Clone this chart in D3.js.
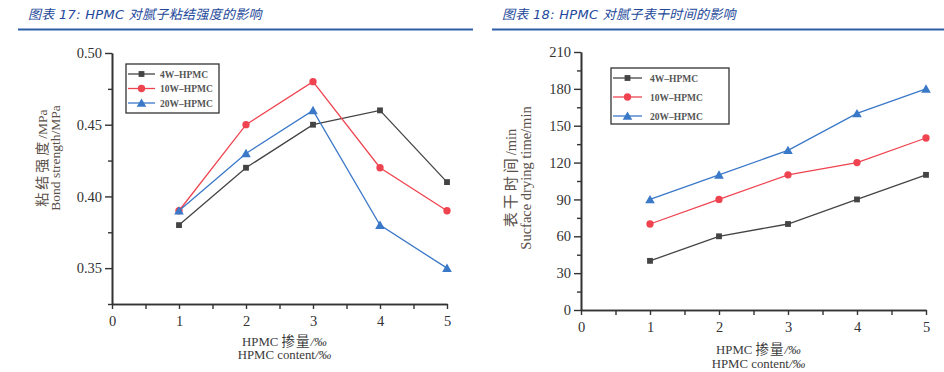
<!DOCTYPE html>
<html><head><meta charset="utf-8">
<script src="https://cdn.jsdelivr.net/npm/d3@7"></script>
<style>body{margin:0;background:#fff}svg{display:block}</style>
</head><body><svg id="c" width="944" height="372"></svg>
<script>
const xValues = [1, 2, 3, 4, 5];
const seriesNames = ["4W–HPMC", "10W–HPMC", "20W–HPMC"];
const bond4W = [0.38, 0.42, 0.45, 0.46, 0.41];
const bond10W = [0.39, 0.45, 0.48, 0.42, 0.39];
const bond20W = [0.39, 0.43, 0.46, 0.38, 0.35];
const dry4W = [40, 60, 70, 90, 110];
const dry10W = [70, 90, 110, 120, 140];
const dry20W = [90, 110, 130, 160, 180];
const xTicks = [0, 1, 2, 3, 4, 5];
const xMinorTicks = [0.5, 1.5, 2.5, 3.5, 4.5];
const bondTicks = [0.35, 0.40, 0.45, 0.50];
const bondMinorTicks = [0.325, 0.375, 0.425, 0.475];
const dryTicks = [0, 30, 60, 90, 120, 150, 180, 210];
const dryMinorTicks = [15, 45, 75, 105, 135, 165, 195];
const titles = ["图表 17:  HPMC 对腻子粘结强度的影响", "图表 18:  HPMC 对腻子表干时间的影响"];

const colors = ["#444444", "#ef4450", "#3a78c8"];
const markers = [d3.symbolSquare, d3.symbolCircle, d3.symbolTriangle];
const markerSizes = [34, 42, 40];
const serif = "'Liberation Serif','Times New Roman','Noto Sans CJK SC',serif";

const svg = d3.select("#c");

// titles and rules
const titleX = [28, 502];
const ruleX = [[18, 473], [492, 944]];
titles.forEach((t, i) => {
  svg.append("text").attr("x", titleX[i]).attr("y", 19)
    .attr("font-family", "'DejaVu Sans','Noto Sans CJK SC',sans-serif")
    .attr("font-style", "italic").attr("font-size", 13).attr("letter-spacing", 0.3)
    .attr("fill", "#23489a").text(t);
  svg.append("line").attr("x1", ruleX[i][0]).attr("x2", ruleX[i][1])
    .attr("y1", 29.5).attr("y2", 29.5).attr("stroke", "#2f5ea8").attr("stroke-width", 2);
});

function drawChart(cfg) {
  const g = svg.append("g");
  const x = d3.scaleLinear().domain([0, 5]).range([cfg.x0, cfg.x1]);
  const y = d3.scaleLinear().domain(cfg.yDomain).range([cfg.y0, cfg.y1]);

  // y axis
  const ya = g.append("g").attr("transform", `translate(${cfg.x0},0)`)
    .call(d3.axisLeft(y).tickValues(cfg.yTicks).tickFormat(cfg.yFormat).tickSize(7).tickSizeOuter(0));
  const yb = g.append("g").attr("transform", `translate(${cfg.x0},0)`)
    .call(d3.axisLeft(y).tickValues(cfg.yMinor).tickFormat("").tickSize(4).tickSizeOuter(0));
  // x axis
  const xa = g.append("g").attr("transform", `translate(0,${cfg.y0})`)
    .call(d3.axisBottom(x).tickValues(xTicks).tickFormat(d3.format("d")).tickSize(5).tickSizeOuter(0));
  const xb = g.append("g").attr("transform", `translate(0,${cfg.y0})`)
    .call(d3.axisBottom(x).tickValues(xMinorTicks).tickFormat("").tickSize(5).tickSizeOuter(0));
  [ya, yb, xa, xb].forEach(a => {
    a.selectAll("path.domain").attr("stroke", "#333").attr("stroke-width", 1.6);
    a.selectAll(".tick line").attr("stroke", "#333").attr("stroke-width", 1.4);
    a.selectAll("text").attr("font-family", serif).attr("font-size", cfg.tickFont).attr("fill", "#333");
  });
  ya.selectAll("text").attr("x", -10);
  xa.selectAll("text").attr("y", 12);

  // axis titles
  const cx = (cfg.x0 + cfg.x1) / 2;
  const t1 = g.append("text").attr("x", cx + 5).attr("y", cfg.xl1).attr("text-anchor", "middle")
    .attr("font-family", serif).attr("font-size", 12.8).attr("fill", "#3a3a3a");
  t1.append("tspan").text("HPMC ");
  t1.append("tspan").attr("font-size", 13.5).attr("letter-spacing", 1).text("掺量");
  t1.append("tspan").attr("font-style", "italic").text("/‰");
  const t2 = g.append("text").attr("x", cx + 5).attr("y", cfg.xl2).attr("text-anchor", "middle")
    .attr("font-family", serif).attr("font-size", 12.8).attr("fill", "#3a3a3a");
  t2.append("tspan").text("HPMC content");
  t2.append("tspan").attr("font-style", "italic").text("/‰");

  cfg.yLabels.forEach((t, i) => {
    const tx = g.append("text").attr("transform", `translate(${cfg.ylX[i]},${cfg.ylY}) rotate(-90)`)
      .attr("text-anchor", "middle").attr("font-family", serif).attr("font-size", cfg.ylFont)
      .attr("fill", "#5a5048");
    const m = t.match(/^([^\x00-\x7f]*)(.*)$/);
    if (m[1]) tx.append("tspan").attr("font-size", cfg.ylFont + 0.5).attr("letter-spacing", 3).text(m[1]);
    tx.append("tspan").text(m[2]);
  });

  // series
  const line = d3.line().x((d, i) => x(xValues[i])).y(d => y(d));
  cfg.series.forEach((s, k) => {
    g.append("path").datum(s).attr("d", line).attr("fill", "none")
      .attr("stroke", colors[k]).attr("stroke-width", 1.3);
    g.selectAll(null).data(s).enter().append("path")
      .attr("transform", (d, i) => `translate(${x(xValues[i])},${y(d) + (k === 2 ? 1 : 0)})`)
      .attr("d", d3.symbol().type(markers[k]).size(markerSizes[k]))
      .attr("fill", colors[k]);
  });

  // legend
  const L = cfg.legend;
  g.append("rect").attr("x", L.x).attr("y", L.y).attr("width", L.w).attr("height", L.h)
    .attr("fill", "#fff").attr("stroke", "#333").attr("stroke-width", 1.3);
  seriesNames.forEach((n, k) => {
    const ry = L.y + L.r0 + k * L.dr;
    g.append("line").attr("x1", L.lx0).attr("x2", L.lx1).attr("y1", ry).attr("y2", ry)
      .attr("stroke", colors[k]).attr("stroke-width", 1.3);
    g.append("path").attr("transform", `translate(${(L.lx0 + L.lx1) / 2},${ry + (k === 2 ? 1 : 0)})`)
      .attr("d", d3.symbol().type(markers[k]).size(markerSizes[k])).attr("fill", colors[k]);
    g.append("text").attr("x", L.tx).attr("y", ry + 3.5).attr("font-family", serif)
      .attr("font-size", 9.5).attr("font-weight", "bold").attr("fill", "#555").text(n);
  });
}

drawChart({
  x0: 112, x1: 447, y0: 304, y1: 53, yDomain: [0.325, 0.50],
  yTicks: bondTicks, yMinor: bondMinorTicks, yFormat: d3.format(".2f"), tickFont: 14.5,
  series: [bond4W, bond10W, bond20W],
  xl1: 346, xl2: 359,
  yLabels: ["粘结强度/MPa", "Bond strength/MPa"], ylX: [47, 60], ylY: 158, ylFont: 13.5,
  legend: {x: 126, y: 64, w: 93, h: 49, r0: 10, dr: 14.5, lx0: 128, lx1: 155, tx: 160}
});
drawChart({
  x0: 581, x1: 926, y0: 310, y1: 52, yDomain: [0, 210],
  yTicks: dryTicks, yMinor: dryMinorTicks, yFormat: d3.format("d"), tickFont: 14.5,
  series: [dry4W, dry10W, dry20W],
  xl1: 354, xl2: 368,
  yLabels: ["表干时间/min", "Sucface drying time/min"], ylX: [516, 531], ylY: 178, ylFont: 14.5,
  legend: {x: 611, y: 68, w: 118, h: 56, r0: 10, dr: 19, lx0: 613, lx1: 642, tx: 650}
});
</script></body></html>
